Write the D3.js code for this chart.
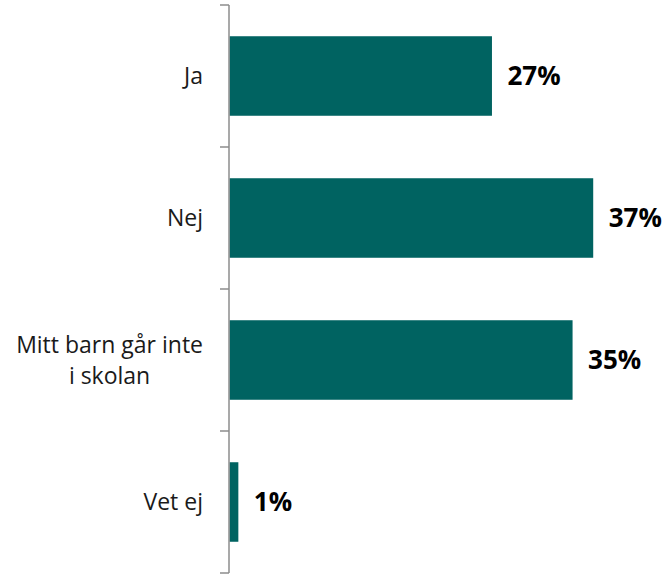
<!DOCTYPE html>
<html lang="sv">
<head>
    <meta charset="UTF-8">
    <title>Chart</title>
    <script src="https://cdn.jsdelivr.net/npm/d3@7"></script>
    <style>
        body { margin: 0; background: #fff; }
        .cat text { font: 23px "Open Sans", sans-serif; fill: #1a1a1a; }
        .val { font: bold 26px "Open Sans", sans-serif; fill: #000; }
    </style>
</head>
<body>
    <svg id="chart" width="667" height="576"></svg>
    <script>
        // data
        const categories = ["Ja", "Nej", "Mitt barn går inte|i skolan", "Vet ej"]
        const values = [26.7, 37.0, 34.9, 0.9]

        const svg = d3.select("#chart")
        const axisX = 229, axisTop = 5, axisBottom = 573

        const x = d3.scaleLinear().domain([0, 40]).range([axisX, axisX + 393.2])
        const y = d3.scaleBand().domain(categories).range([axisTop, axisBottom]).paddingInner(0.44).paddingOuter(0.22)

        // bars
        svg.selectAll("rect.bar").data(values).enter().append("rect")
            .attr("class", "bar")
            .attr("x", x(0) + 0.5)
            .attr("y", (d, i) => y(categories[i]))
            .attr("width", d => x(d) - x(0))
            .attr("height", y.bandwidth())
            .attr("fill", "#006361")

        // value labels
        svg.selectAll("text.val").data(values).enter().append("text")
            .attr("class", "val")
            .attr("x", d => x(d) + 16)
            .attr("y", (d, i) => y(categories[i]) + y.bandwidth() / 2)
            .attr("dy", "0.35em")
            .text(d => Math.round(d) + "%")

        // axis line with ticks between categories
        const ax = svg.append("g").attr("fill", "none").attr("stroke", "#8c8c8c").attr("stroke-width", 1.5)
        ax.append("line").attr("x1", axisX).attr("x2", axisX).attr("y1", axisTop).attr("y2", axisBottom)
        const step = (axisBottom - axisTop) / categories.length
        const tickYs = d3.range(categories.length + 1).map(i => axisTop + i * step)
        ax.selectAll("line.t").data(tickYs).enter().append("line")
            .attr("class", "t")
            .attr("x1", axisX - 9).attr("x2", axisX)
            .attr("y1", d => d).attr("y2", d => d)

        // category labels, each line centred, block right-aligned near the axis
        const cat = svg.append("g").attr("class", "cat")
        categories.forEach((c, i) => {
            const lines = c.split("|")
            const cy = y(c) + y.bandwidth() / 2
            const t = cat.append("text").attr("text-anchor", "middle")
            t.selectAll("tspan").data(lines).enter().append("tspan").text(d => d)
            const widths = []
            t.selectAll("tspan").each(function () { widths.push(this.getComputedTextLength()) })
            const w = d3.max(widths)
            const cx = axisX - 26 - w / 2
            const lh = 31
            t.selectAll("tspan")
                .attr("x", cx)
                .attr("y", (d, j) => cy + (j - (lines.length - 1) / 2) * lh)
                .attr("dy", "0.35em")
        })
    </script>
</body>
</html>
